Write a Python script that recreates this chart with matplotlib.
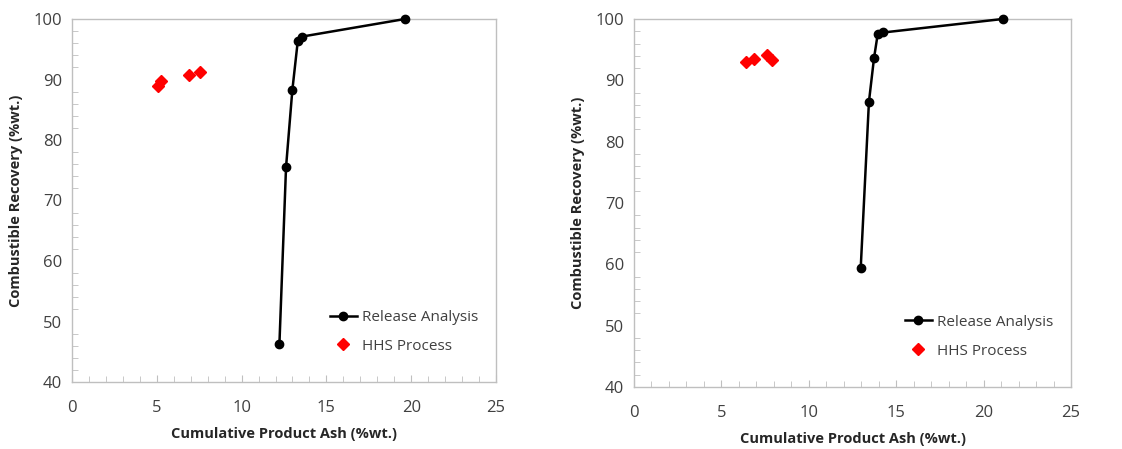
import matplotlib.pyplot as plt
from matplotlib.ticker import MultipleLocator

# left panel
ra_ash_1 = [12.23, 12.62, 12.99, 13.31, 13.58, 19.63]
ra_rec_1 = [46.3, 75.5, 88.2, 96.3, 97.1, 100.0]
hhs_ash_1 = [5.05, 5.25, 6.90, 7.52]
hhs_rec_1 = [88.9, 89.8, 90.8, 91.3]

# right panel
ra_ash_2 = [12.97, 13.44, 13.73, 13.94, 14.26, 21.09]
ra_rec_2 = [59.4, 86.5, 93.6, 97.5, 97.8, 100.0]
hhs_ash_2 = [6.39, 6.86, 7.61, 7.88]
hhs_rec_2 = [93.0, 93.5, 94.1, 93.3]

plt.rcParams['font.family'] = ['Open Sans', 'DejaVu Sans']

fig = plt.figure(figsize=(11.22, 4.49), dpi=100)
W, H = 1122, 449
ax1 = fig.add_axes([72 / W, 1 - 382 / H, 424 / W, 363 / H])
ax2 = fig.add_axes([634 / W, 1 - 387 / H, 437 / W, 368 / H])


def draw_panel(ax, ra_x, ra_y, hhs_x, hhs_y):
    ax.plot(ra_x, ra_y, color='black', lw=1.8, marker='o', ms=6,
            label='Release Analysis', clip_on=False, zorder=3)
    ax.plot(hhs_x, hhs_y, ls='none', color='red', marker='D', ms=6.5,
            label='HHS Process', clip_on=False, zorder=3)
    ax.set_xlim(0, 25)
    ax.set_ylim(40, 100)
    ax.xaxis.set_major_locator(MultipleLocator(5))
    ax.xaxis.set_minor_locator(MultipleLocator(1))
    ax.yaxis.set_major_locator(MultipleLocator(10))
    ax.yaxis.set_minor_locator(MultipleLocator(2))
    for s in ax.spines.values():
        s.set_color('#bfbfbf')
        s.set_linewidth(1.0)
    ax.tick_params(which='both', direction='in', color='#bfbfbf',
                   labelsize=12, labelcolor='#404040')
    ax.tick_params(which='major', length=5)
    ax.tick_params(which='minor', length=4)
    ax.tick_params(axis='x', which='major', pad=13)
    ax.tick_params(axis='y', which='major', length=0, pad=7)
    ax.set_xlabel('Cumulative Product Ash (%wt.)', fontsize=10.5,
                  fontweight='bold', color='#262626', labelpad=8)
    ax.set_ylabel('Combustible Recovery (%wt.)', fontsize=10.5,
                  fontweight='bold', color='#262626', labelpad=8)
    ax.legend(loc='lower right', frameon=False, fontsize=11,
              handlelength=1.8, handletextpad=0.3, labelspacing=0.9,
              bbox_to_anchor=(0.99, 0.04), labelcolor='#404040')


draw_panel(ax1, ra_ash_1, ra_rec_1, hhs_ash_1, hhs_rec_1)
draw_panel(ax2, ra_ash_2, ra_rec_2, hhs_ash_2, hhs_rec_2)

fig.savefig('out.png', dpi=100)
